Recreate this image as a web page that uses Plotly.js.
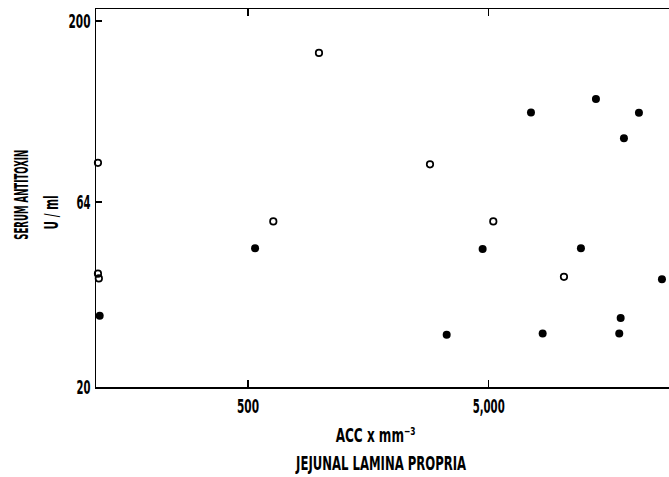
<!DOCTYPE html>
<html>
<head>
<meta charset="utf-8">
<script src="https://cdn.plot.ly/plotly-3.0.1.min.js"></script>
<style>html,body{margin:0;padding:0;background:#fff;}#chart{width:669px;height:477px;}</style>
</head>
<body>
<div id="chart"></div>
<script>
// Open circles
const openX = [119, 119, 120, 637, 986, 2852, 5226, 10276];
const openY = [82.0, 40.8, 39.6, 56.7, 163.8, 81.2, 56.7, 40.0];
// Filled circles
const filledX = [121, 535, 3346, 4720, 7495, 8381, 12086, 13955, 17676, 17439, 18240, 21054, 26240];
const filledY = [31.3, 47.9, 27.8, 47.7, 112.6, 28.0, 47.9, 122.5, 30.9, 28.0, 95.7, 112.3, 39.4];
// Tick labels
const xTickVals = [500, 5000];
const xTickText = ['500', '5,000'];
const yTickVals = [20, 64, 200];
const yTickText = ['20', '64', '200'];

const FONT = '"DejaVu Sans Condensed", "Liberation Sans Narrow", Arial, sans-serif';
const FS = 20;
const fnt = {family: FONT, size: FS, color: '#000', weight: 'bold'};

const traces = [
  {
    x: filledX, y: filledY, type: 'scatter', mode: 'markers', cliponaxis: false,
    marker: {symbol: 'circle', size: 8, color: '#000', line: {width: 0}},
    hoverinfo: 'x+y'
  },
  {
    x: openX, y: openY, type: 'scatter', mode: 'markers', cliponaxis: false,
    marker: {symbol: 'circle-open', size: 6.5, color: '#000', line: {width: 1.7, color: '#000'}},
    hoverinfo: 'x+y'
  }
];

const layout = {
  width: 669, height: 477,
  margin: {l: 96, r: 0, t: 9, b: 90, pad: 0},
  paper_bgcolor: '#fff', plot_bgcolor: '#fff',
  showlegend: false,
  font: fnt,
  xaxis: {
    type: 'log', range: [Math.log10(116.8), Math.log10(28070)],
    showgrid: false, zeroline: false,
    showline: true, linecolor: '#000', linewidth: 1.5, mirror: 'ticks',
    ticks: 'inside', ticklen: 7, tickwidth: 1.5, tickcolor: '#000',
    tickvals: xTickVals, ticktext: xTickText,
    tickfont: fnt
  },
  yaxis: {
    type: 'log', range: [Math.log10(20), Math.log10(215.9)],
    showgrid: false, zeroline: false,
    showline: true, linecolor: '#000', linewidth: 1.5,
    ticks: 'inside', ticklen: 6, tickwidth: 1.5, tickcolor: '#000',
    tickvals: yTickVals, ticktext: yTickText,
    tickfont: fnt
  },
  annotations: [
    {text: 'SERUM ANTITOXIN', xref: 'paper', yref: 'paper', x: -0.131, y: 0.508,
     xanchor: 'center', yanchor: 'middle', textangle: -90, showarrow: false, font: fnt},
    {text: 'U / ml', xref: 'paper', yref: 'paper', x: -0.079, y: 0.463,
     xanchor: 'center', yanchor: 'middle', textangle: -90, showarrow: false, font: fnt},
    {text: 'ACC x mm\u207B\u00B3', xref: 'paper', yref: 'paper', x: 0.487, y: -0.128,
     xanchor: 'center', yanchor: 'middle', showarrow: false, font: fnt},
    {text: 'JEJUNAL LAMINA PROPRIA', xref: 'paper', yref: 'paper', x: 0.496, y: -0.201,
     xanchor: 'center', yanchor: 'middle', showarrow: false, font: fnt}
  ]
};

// Condensed look of the original typeface: target rendered widths (style only)
const condense = {
  'SERUM ANTITOXIN': 90, 'U / ml': 34, 'ACC x mm\u207B\u00B3': 80, 'JEJUNAL LAMINA PROPRIA': 170,
  '500': 22, '5,000': 32, '200': 22, '64': 14, '20': 14
};

Plotly.newPlot('chart', traces, layout, {displayModeBar: false, staticPlot: true}).then(function (gd) {
  gd.querySelectorAll('svg text').forEach(function (t) {
    const key = (t.textContent || '').replace(/\u200b/g, '').trim();
    if (condense[key] !== undefined) {
      t.setAttribute('textLength', condense[key]);
      t.setAttribute('lengthAdjust', 'spacingAndGlyphs');
    }
  });
});
</script>
</body>
</html>
